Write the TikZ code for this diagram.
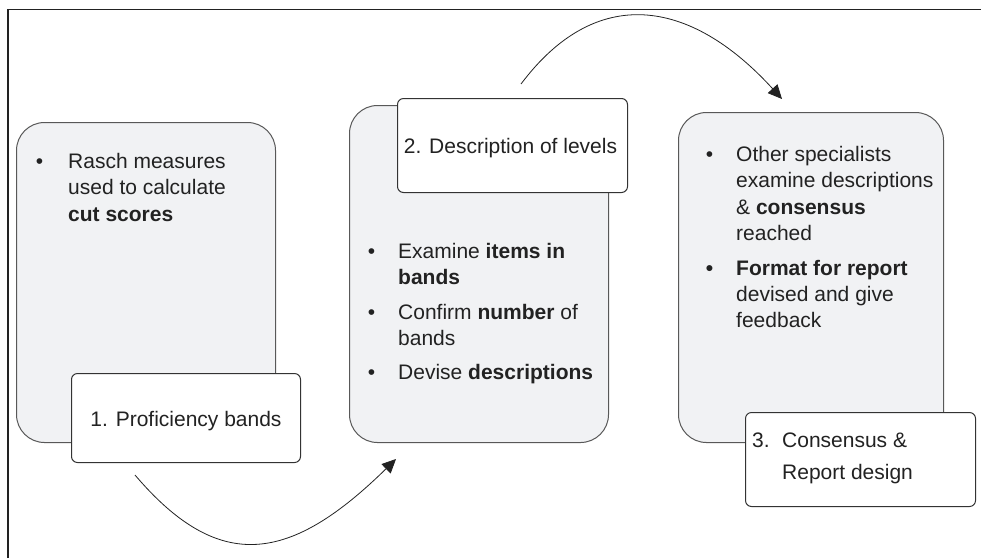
\documentclass[tikz,border=0pt]{standalone}
\usepackage{fontspec}
\setmainfont{Liberation Sans}
\usetikzlibrary{arrows.meta}
\definecolor{boxfill}{HTML}{F1F2F4}
\definecolor{boxline}{HTML}{585858}
\definecolor{lblline}{HTML}{333333}
\definecolor{txt}{HTML}{222222}
\definecolor{frame}{HTML}{222222}
\tikzset{
  graybox/.style={draw=boxline, fill=boxfill, line width=1pt, rounded corners=28pt, inner sep=0pt, anchor=north west},
  lblbox/.style={draw=lblline, fill=white, line width=1pt, rounded corners=6pt, inner sep=0pt, anchor=north west},
  bodytext/.style={inner sep=0pt, anchor=base west, text=txt, font=\fontsize{21}{26.3}\selectfont},
  lbltext/.style={inner sep=0pt, anchor=base, text=txt, font=\fontsize{21}{26.3}\selectfont},
  flow/.style={draw=frame, line width=0.8pt, -{Triangle[length=14pt,width=13pt]}}
}
\begin{document}
\begin{tikzpicture}[x=1pt,y=-1pt]
\useasboundingbox (0,0) rectangle (981,558);
% frame
\draw[frame, line width=1.3pt] (8,558) -- (8,9.5) -- (981,9.5);
% gray boxes
\node[graybox, minimum width=259pt, minimum height=320pt] (b1) at (16,122) {};
\node[graybox, minimum width=259pt, minimum height=337pt] (b2) at (349,105) {};
\node[graybox, minimum width=265pt, minimum height=330pt] (b3) at (678,112) {};
% label boxes
\node[lblbox, minimum width=229pt, minimum height=89pt] (l1) at (71,373) {};
\node[lblbox, minimum width=230pt, minimum height=94pt] (l2) at (397,98) {};
\node[lblbox, minimum width=230pt, minimum height=94pt] (l3) at (745,412) {};
% body texts
\node[bodytext] (t1) at (35.6,168.5) {\begin{tabular}[t]{@{}p{32.4pt}@{}l@{}}
•& Rasch measures\\
 & used to calculate\\
 & \textbf{cut scores}
\end{tabular}};
\node[bodytext] (t2) at (367.6,258.5) {\begin{tabular}[t]{@{}p{30.4pt}@{}l@{}}
•& Examine \textbf{items in}\\
 & \textbf{bands}\\[8pt]
•& Confirm \textbf{number} of\\
 & bands\\[8pt]
•& Devise \textbf{descriptions}
\end{tabular}};
\node[bodytext] (t3) at (705.6,161.5) {\begin{tabular}[t]{@{}p{30.4pt}@{}l@{}}
•& Other specialists\\
 & examine descriptions\\
 & \& \textbf{consensus}\\
 & reached\\[8.5pt]
\textbf{•}& \textbf{Format for report}\\
 & devised and give\\
 & feedback
\end{tabular}};
% label texts
\node[lbltext] (n1) at (186,426.5) {1. Proficiency bands};
\node[lbltext] (n2) at (510.5,153.5) {2. Description of levels};
\node[bodytext] (n3) at (752,447.5) {\begin{tabular}[t]{@{}p{30pt}@{}l@{}}
3. & Consensus \&\\[5.7pt]
   & Report design
\end{tabular}};
% connectors
\coordinate (a1s) at (135,475);
\coordinate (a1e) at (396,459);
\coordinate (a2s) at (521,84);
\coordinate (a2e) at (782,99);
\draw[flow] (a1s) .. controls (220,575) and (291,562) .. (a1e);
\draw[flow] (a2s) .. controls (596,-16) and (690,-2) .. (a2e);
\end{tikzpicture}
\end{document}
